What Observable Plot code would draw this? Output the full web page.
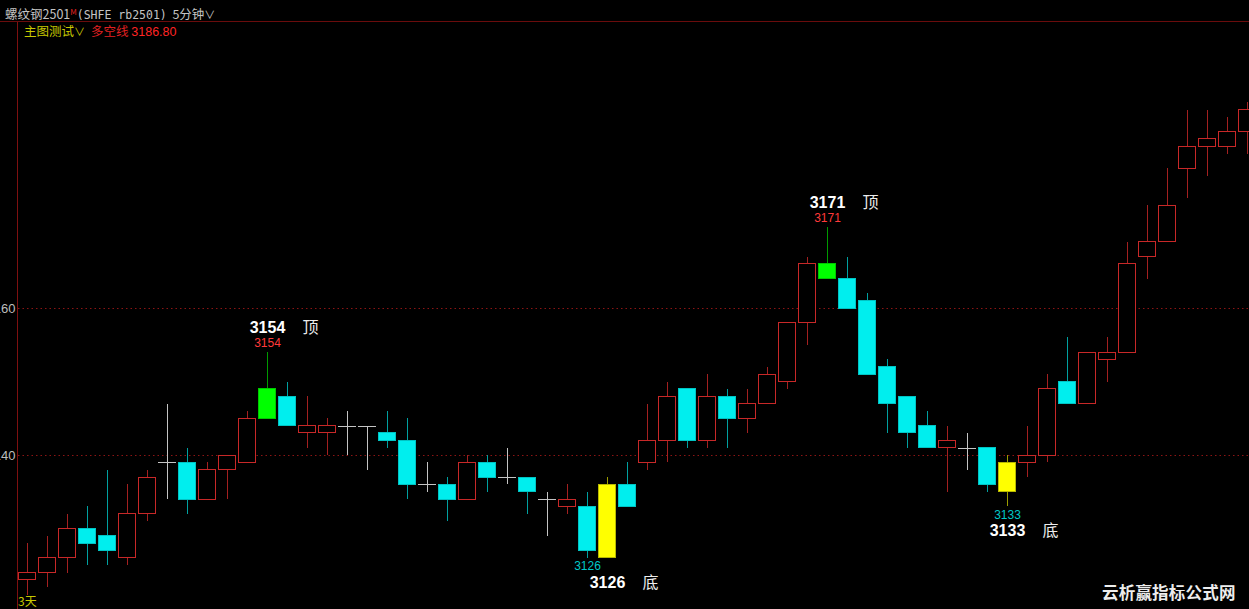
<!DOCTYPE html>
<html><head><meta charset="utf-8">
<script src="https://cdn.jsdelivr.net/npm/d3@7"></script>
<script src="https://cdn.jsdelivr.net/npm/@observablehq/plot@0.6"></script>
<style>
html,body{margin:0;padding:0;background:#000;overflow:hidden}
#wrap{position:relative;width:1249px;height:609px;background:#000;overflow:hidden}
#chart{position:absolute;left:0;top:0}
.abs{position:absolute;white-space:nowrap}
</style></head><body>
<div id="wrap">
  <div class="abs" style="left:0;top:21px;width:1249px;height:1px;background:#6a0c0c"></div>
  <div class="abs" style="left:17px;top:22px;width:1px;height:587px;background:#7e1010"></div>
  <div id="chart"></div>
  <div class="abs" style="left:5px;top:7px;font:12.5px 'Noto Sans CJK SC','DejaVu Sans';color:#c4c4c4;line-height:14px;height:14px">螺纹钢2501<span style="color:#e02020;font-size:8px;position:relative;top:-4px">M</span><span style="font-family:'DejaVu Sans Mono';font-size:11.5px">(SHFE rb2501)</span>&nbsp;&nbsp;5分钟<span style="font-size:11px">∨</span></div>
  <div class="abs" style="left:24px;top:24px;font:12.5px 'Noto Sans CJK SC';color:#c8c800;line-height:14px;height:14px">主图测试<span style="font-size:11px">∨</span></div>
  <div class="abs" style="left:91px;top:24px;font:12.5px 'Noto Sans CJK SC';color:#e02020;line-height:14px;height:14px">多空线 <span style="font-family:'Liberation Sans';font-size:12.5px;color:#ff2424">3186.80</span></div>
  <div class="abs" style="left:18px;top:594px;font:12px 'Noto Sans CJK SC','Liberation Sans';color:#c8c800;line-height:14px">3天</div>
  <div class="abs" style="left:1102px;top:582px;font:bold 16.5px 'Noto Sans CJK SC';color:#ededed;line-height:20px;letter-spacing:0.2px">云析赢指标公式网</div>
</div>
<script>
// ---- data (5-minute candles, SHFE rb2501) ----
const opens  = [3123,3124,3126,3130,3129,3126,3132,3139,3139,3134,3138,3139,3145,3148,3143,3143,3144,3144,3143,3142,3136,3136,3134,3139,3137,3137,3134,3133,3133,3126,3136,3139,3142,3149,3142,3148,3145,3147,3150,3158,3166,3164,3161,3152,3148,3144,3141,3141,3141,3135,3139,3140,3150,3147,3153,3154,3167,3169,3179,3182,3182,3184];
const closes = [3124,3126,3130,3128,3127,3132,3137,3139,3134,3138,3140,3145,3149,3144,3144,3144,3144,3144,3142,3136,3136,3134,3139,3137,3137,3135,3134,3134,3127,3136,3133,3142,3148,3142,3148,3145,3147,3151,3158,3166,3164,3160,3151,3147,3143,3141,3142,3141,3136,3139,3140,3149,3147,3154,3154,3166,3169,3174,3182,3183,3184,3187];
const highs  = [3128,3129,3132,3133,3138,3136,3138,3147,3141,3139,3140,3146,3154,3150,3148,3145,3146,3144,3146,3145,3139,3137,3140,3140,3141,3137,3135,3136,3135,3137,3139,3147,3150,3149,3151,3149,3149,3152,3158,3167,3171,3167,3162,3153,3148,3146,3144,3143,3141,3140,3144,3151,3156,3154,3156,3169,3174,3179,3187,3187,3186,3188];
const lows   = [3121,3122,3124,3125,3125,3125,3131,3134,3132,3134,3134,3139,3145,3144,3141,3140,3140,3138,3141,3134,3135,3131,3134,3135,3136,3132,3129,3132,3126,3126,3133,3138,3139,3141,3141,3141,3143,3147,3149,3155,3164,3160,3151,3143,3141,3141,3135,3138,3135,3133,3137,3139,3147,3147,3150,3154,3164,3169,3175,3178,3181,3181];
// signal candles
const topSignalIndex = [12, 40];
const topPrice = [3154, 3171];
const bottomSignalIndex = [29, 49];
const bottomExtremeIndex = [28, 49];
const bottomPrice = [3126, 3133];
const gridTicks = [3140, 3160];
const topWord = "顶", bottomWord = "底";

const candles = opens.map((o, i) => {
  const c = closes[i];
  const kind = topSignalIndex.includes(i) ? "top" : bottomSignalIndex.includes(i) ? "bottom"
    : c > o ? "up" : c < o ? "down" : "doji";
  return {i, open: o, close: c, high: highs[i], low: lows[i], kind};
});
const wickColor = {up:"#a42020", down:"#00a0a0", doji:"#c4c4c4", top:"#009a00", bottom:"#9c9c00"};
const bodyStroke = {up:"#c82828", down:"#00c4c4", top:"#00c800", bottom:"#b8b800"};
const bodyFill = {up:"#000000", down:"#00eeee", top:"#00ff00", bottom:"#ffff00"};

const tops = topSignalIndex.map((s, k) => ({i: s, p: topPrice[k]}));
const bottoms = bottomSignalIndex.map((s, k) => ({i: s, e: bottomExtremeIndex[k], p: bottomPrice[k]}));

const numFont = "'Liberation Sans', Arial, sans-serif";
const cjkFont = "'Noto Sans CJK SC', sans-serif";

const chart = Plot.plot({
  width: 1249, height: 609,
  marginLeft: 0, marginRight: 0, marginTop: 0, marginBottom: 0,
  style: {background: "transparent", overflow: "visible"},
  x: {domain: [-1.35, 61.1], axis: null},
  y: {domain: [3119.048, 3201.905], axis: null},
  color: {type: "identity"},
  marks: [
    Plot.ruleY(gridTicks, {stroke: "#8c1414", strokeDasharray: "1.5,3", insetLeft: 18}),
    Plot.axisY(gridTicks, {anchor: "left", tickSize: 0, tickPadding: 0, dx: 15, textAnchor: "end",
      fill: "#bdbdbd", fontSize: 13, fontFamily: numFont, tickFormat: d => String(d)}),
    Plot.ruleX(candles, {x: "i", y1: "low", y2: "high", stroke: d => wickColor[d.kind], strokeWidth: 1, shapeRendering: "crispEdges"}),
    Plot.rect(candles.filter(d => d.kind !== "doji"), {
      x1: d => d.i - 0.43, x2: d => d.i + 0.43, y1: "open", y2: "close",
      fill: d => bodyFill[d.kind], stroke: d => bodyStroke[d.kind], strokeWidth: 1, shapeRendering: "crispEdges"}),
    Plot.ruleY(candles.filter(d => d.kind === "doji"), {
      y: "open", x1: d => d.i - 0.45, x2: d => d.i + 0.45, stroke: wickColor.doji, shapeRendering: "crispEdges"}),
    // top labels
    Plot.text(tops, {x: "i", y: "p", text: d => String(d.p), dy: -9, fill: "#ff3a3a", fontSize: 12, fontFamily: numFont}),
    Plot.text(tops, {x: "i", y: "p", text: d => String(d.p), dy: -25, fill: "#ffffff", fontSize: 16, fontWeight: "bold", fontFamily: numFont}),
    Plot.text(tops, {x: "i", y: "p", text: () => topWord, dy: -25, dx: 43, fill: "#ededed", fontSize: 16, fontFamily: cjkFont}),
    // bottom labels
    Plot.text(bottoms, {x: "e", y: "p", text: d => String(d.p), dy: 8, fill: "#00c8c8", fontSize: 12, fontFamily: numFont}),
    Plot.text(bottoms, {x: "i", y: "p", text: d => String(d.p), dy: 24, fill: "#ffffff", fontSize: 16, fontWeight: "bold", fontFamily: numFont}),
    Plot.text(bottoms, {x: "i", y: "p", text: () => bottomWord, dy: 24, dx: 43, fill: "#ededed", fontSize: 16, fontFamily: cjkFont})
  ]
});
document.getElementById("chart").appendChild(chart);
</script>
</body></html>
